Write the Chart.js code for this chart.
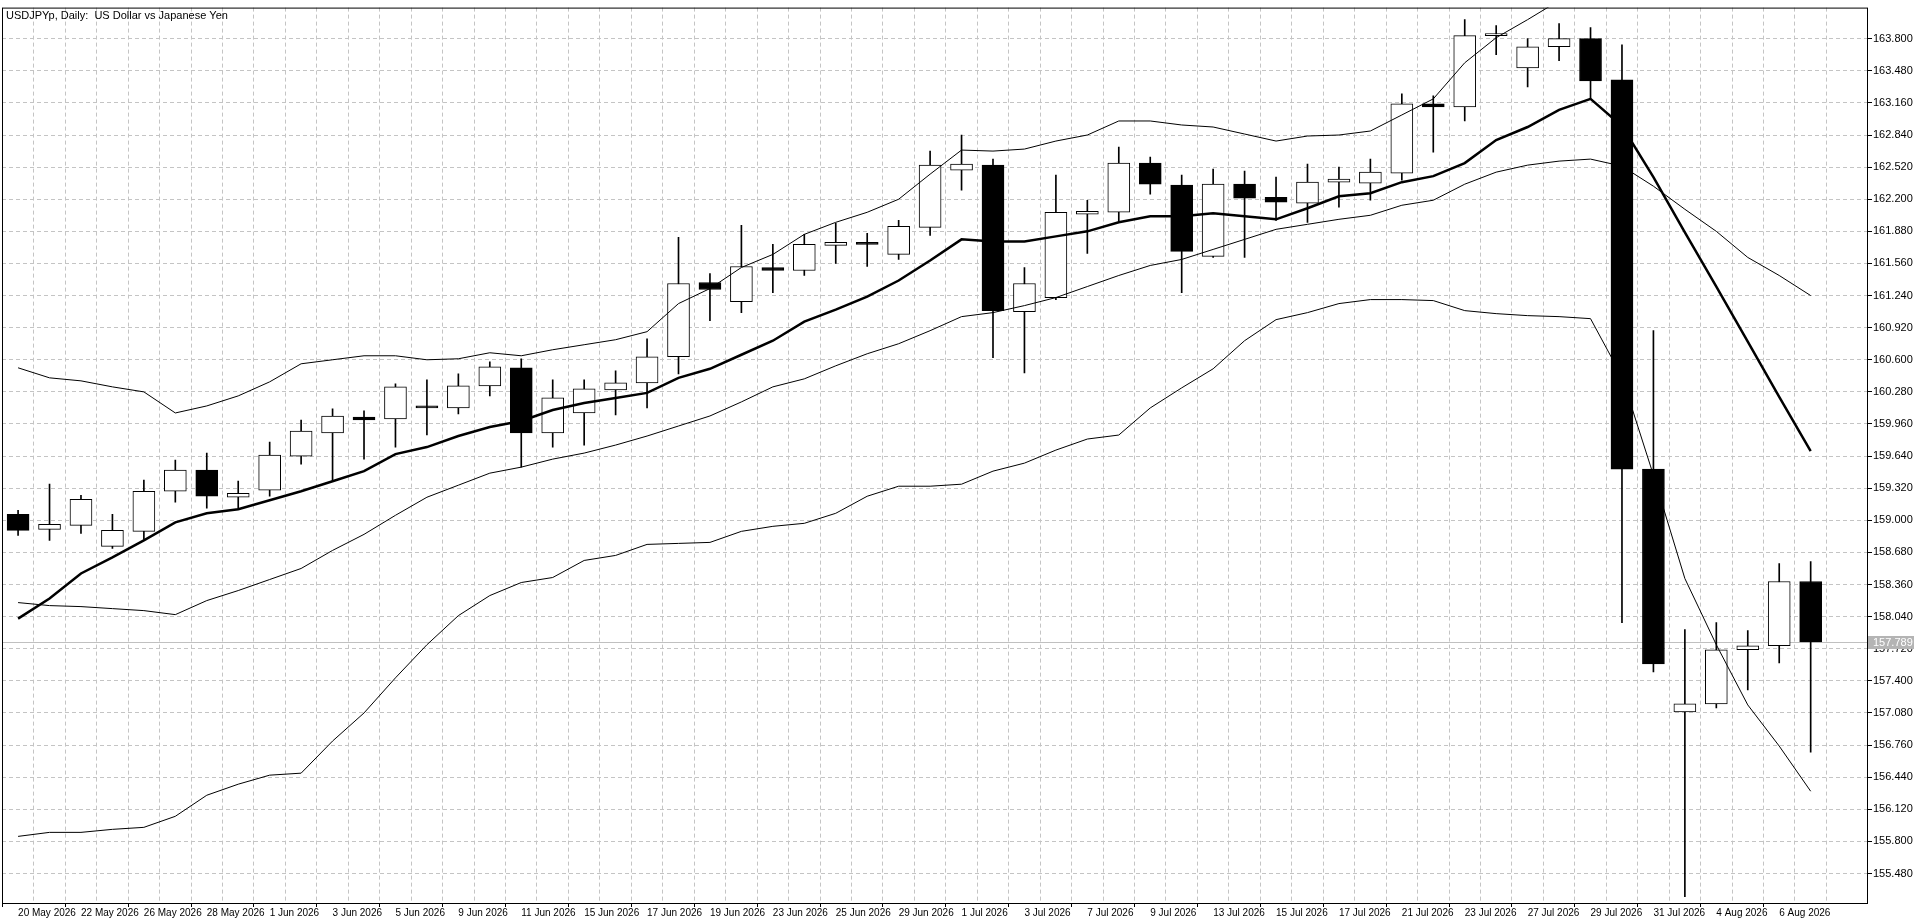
<!DOCTYPE html>
<html>
<head>
<meta charset="utf-8">
<script src="https://cdn.jsdelivr.net/npm/chart.js@4.4.1/dist/chart.umd.min.js"></script>
<style>
  html, body { margin: 0; padding: 0; background: #fff; }
  #wrap { width: 1920px; height: 923px; }
</style>
</head>
<body>
<div id="wrap"><canvas id="canvas" width="1920" height="923"></canvas></div>
<script>
// USDJPYp daily candles, 20 May - 7 Aug 2026
var dates = [
  '20 May 2026','21 May 2026','22 May 2026','25 May 2026','26 May 2026','27 May 2026','28 May 2026','29 May 2026',
  '1 Jun 2026','2 Jun 2026','3 Jun 2026','4 Jun 2026','5 Jun 2026','8 Jun 2026','9 Jun 2026','10 Jun 2026',
  '11 Jun 2026','12 Jun 2026','15 Jun 2026','16 Jun 2026','17 Jun 2026','18 Jun 2026','19 Jun 2026','22 Jun 2026',
  '23 Jun 2026','24 Jun 2026','25 Jun 2026','26 Jun 2026','29 Jun 2026','30 Jun 2026',
  '1 Jul 2026','2 Jul 2026','3 Jul 2026','6 Jul 2026','7 Jul 2026','8 Jul 2026','9 Jul 2026','10 Jul 2026',
  '13 Jul 2026','14 Jul 2026','15 Jul 2026','16 Jul 2026','17 Jul 2026','20 Jul 2026','21 Jul 2026','22 Jul 2026',
  '23 Jul 2026','24 Jul 2026','27 Jul 2026','28 Jul 2026','29 Jul 2026','30 Jul 2026','31 Jul 2026',
  '3 Aug 2026','4 Aug 2026','5 Aug 2026','6 Aug 2026','7 Aug 2026'
];

var open = [159.06,158.91,158.95,158.74,158.89,159.29,159.50,159.23,159.30,159.64,159.87,160.03,160.01,160.14,160.12,160.34,
  160.52,159.87,160.07,160.30,160.37,160.63,161.37,161.18,161.52,161.49,161.74,161.77,161.65,161.92,
  162.49,162.54,161.08,161.22,162.05,162.07,162.56,162.34,161.63,162.35,162.22,162.16,162.37,162.36,162.46,163.15,
  163.12,163.83,163.51,163.72,163.80,163.39,159.51,157.09,157.17,157.71,157.75,158.39];
var high = [159.10,159.36,159.25,159.06,159.40,159.60,159.67,159.39,159.78,160.00,160.11,160.09,160.36,160.40,160.46,160.58,
  160.61,160.40,160.40,160.49,160.81,161.82,161.46,161.94,161.75,161.85,161.96,161.86,161.99,162.68,
  162.84,162.60,161.52,162.44,162.19,162.72,162.62,162.44,162.50,162.48,162.42,162.55,162.52,162.60,163.25,163.23,
  163.99,163.93,163.80,163.95,163.91,163.74,160.89,157.91,157.98,157.90,158.57,158.59];
var low = [158.85,158.80,158.87,158.72,158.81,159.18,159.12,159.11,159.24,159.56,159.39,159.61,159.73,159.85,160.06,160.24,
  159.53,159.73,159.75,160.05,160.12,160.46,160.99,161.07,161.27,161.44,161.56,161.53,161.60,161.84,
  162.29,160.62,160.47,161.20,161.66,161.97,162.25,161.27,161.62,161.62,161.99,161.97,162.12,162.19,162.39,162.67,
  162.98,163.64,163.32,163.58,163.21,157.98,157.49,155.25,157.13,157.31,157.58,156.69];
var close = [158.90,158.96,159.21,158.90,159.29,159.50,159.24,159.27,159.65,159.89,160.04,160.00,160.33,160.12,160.34,160.53,
  159.87,160.22,160.31,160.37,160.63,161.36,161.30,161.53,161.49,161.75,161.77,161.75,161.93,162.54,
  162.55,161.09,161.36,162.07,162.08,162.56,162.35,161.68,162.35,162.21,162.17,162.37,162.40,162.47,163.15,163.12,
  163.83,163.85,163.72,163.80,163.38,159.51,157.57,157.17,157.71,157.75,158.39,157.789];

// indicator lines
var maLine = [158.02,158.22,158.47,158.63,158.80,158.98,159.07,159.11,159.20,159.29,159.39,159.49,159.66,159.73,159.84,159.93,
  159.99,160.10,160.17,160.22,160.27,160.42,160.51,160.65,160.79,160.98,161.10,161.23,161.39,161.59,
  161.80,161.78,161.78,161.83,161.88,161.97,162.03,162.03,162.06,162.03,162.00,162.11,162.23,162.26,162.37,162.43,
  162.56,162.79,162.92,163.09,163.20,162.93,162.42,161.87,161.33,160.78,160.23,159.69];
var upperBand = [160.52,160.42,160.39,160.33,160.28,160.07,160.14,160.24,160.38,160.56,160.60,160.64,160.64,160.60,160.61,160.67,
  160.64,160.70,160.75,160.80,160.88,161.16,161.31,161.52,161.65,161.85,161.97,162.07,162.20,162.45,
  162.69,162.68,162.70,162.78,162.84,162.98,162.98,162.94,162.92,162.85,162.78,162.83,162.84,162.88,163.04,163.20,
  163.56,163.81,163.99,164.18,164.40,164.90,165.40,165.80,166.00,166.10,166.10,166.00];
var innerBand = [158.18,158.15,158.14,158.12,158.10,158.06,158.20,158.30,158.41,158.52,158.70,158.86,159.05,159.23,159.35,159.47,
  159.53,159.61,159.67,159.75,159.84,159.94,160.04,160.18,160.33,160.41,160.54,160.66,160.76,160.89,
  161.03,161.07,161.14,161.22,161.33,161.44,161.54,161.60,161.70,161.80,161.90,161.95,162.00,162.04,162.14,162.19,
  162.35,162.47,162.54,162.58,162.60,162.53,162.33,162.10,161.88,161.62,161.44,161.24];
var lowerBand = [155.85,155.89,155.89,155.92,155.94,156.05,156.26,156.37,156.46,156.48,156.80,157.08,157.43,157.76,158.05,158.25,
  158.38,158.43,158.60,158.65,158.76,158.77,158.78,158.89,158.94,158.97,159.07,159.24,159.34,159.34,
  159.36,159.49,159.57,159.70,159.81,159.85,160.12,160.32,160.51,160.79,161.00,161.07,161.16,161.20,161.20,161.19,
  161.09,161.06,161.04,161.03,161.01,160.43,159.45,158.42,157.76,157.16,156.75,156.30];

var priceTicks = [155.48,155.80,156.12,156.44,156.76,157.08,157.40,157.72,158.04,158.36,158.68,159.00,159.32,159.64,
  159.96,160.28,160.60,160.92,161.24,161.56,161.88,162.20,162.52,162.84,163.16,163.48,163.80];
var lastPrice = 157.789;

var FONT = '"Liberation Sans", Arial, sans-serif';

var bodies = [], wicks = [], bodyColors = [];
for (let i = 0; i < dates.length; i++) {
    let o = open[i], c = close[i];
    if (Math.abs(o - c) < 0.02) c = o + (c < o ? -0.02 : 0.02);
    bodies.push({x: i, y: [o, c]});
    wicks.push({x: i, y: [low[i], high[i]]});
    bodyColors.push(close[i] < open[i] ? '#000' : '#fff');
}
function lineData(arr) {
    return arr.map(function (v, i) { return {x: i, y: v}; });
}

const overlay = {
    id: 'overlay',
    beforeDatasetsDraw(chart) {
        const ctx = chart.ctx, y = chart.scales.y, a = chart.chartArea;
        const py = Math.round(y.getPixelForValue(lastPrice)) + 0.5;
        ctx.save();
        ctx.strokeStyle = '#c0c0c0';
        ctx.lineWidth = 1;
        ctx.beginPath();
        ctx.moveTo(a.left, py);
        ctx.lineTo(a.right, py);
        ctx.stroke();
        ctx.restore();
    },
    afterDraw(chart) {
        const ctx = chart.ctx, y = chart.scales.y, a = chart.chartArea;
        const py = Math.round(y.getPixelForValue(lastPrice));
        ctx.save();
        ctx.fillStyle = '#b4b4b4';
        ctx.fillRect(a.right + 1, py - 6, 46, 13);
        ctx.fillStyle = '#fff';
        ctx.font = '11px ' + FONT;
        ctx.textBaseline = 'middle';
        ctx.fillText(lastPrice.toFixed(3), a.right + 6, py + 1);
        ctx.fillStyle = '#000';
        ctx.textBaseline = 'top';
        ctx.fillText('USDJPYp, Daily:  US Dollar vs Japanese Yen', a.left + 4, a.top + 3);
        ctx.strokeStyle = '#000';
        ctx.lineWidth = 1;
        ctx.strokeRect(a.left + 0.5, a.top + 0.5, a.right - a.left, a.bottom - a.top);
        ctx.restore();
    }
};

const myChart = new Chart(document.getElementById('canvas'), {
    type: 'bar',
    data: {
        datasets: [
            {type: 'line', data: lineData(maLine), borderColor: '#000', borderWidth: 2.5, pointRadius: 0, order: 1},
            {type: 'line', data: lineData(upperBand), borderColor: '#000', borderWidth: 1, pointRadius: 0, order: 1},
            {type: 'line', data: lineData(innerBand), borderColor: '#000', borderWidth: 1, pointRadius: 0, order: 1},
            {type: 'line', data: lineData(lowerBand), borderColor: '#000', borderWidth: 1, pointRadius: 0, order: 1},
            {data: bodies, backgroundColor: bodyColors, borderColor: '#000', borderWidth: 1, borderSkipped: false,
             barThickness: 22, grouped: false, order: 2},
            {data: wicks, backgroundColor: '#000', borderWidth: 0, barThickness: 1, grouped: false, order: 3}
        ]
    },
    options: {
        responsive: false,
        animation: false,
        layout: {padding: {left: 2, top: 2, right: 0, bottom: 0}},
        plugins: {legend: {display: false}, tooltip: {enabled: false}},
        scales: {
            x: {
                type: 'linear',
                min: 0,
                max: 58.28,
                afterBuildTicks: function (scale) {
                    scale.ticks = dates.map(function (d, i) { return {value: i}; });
                },
                afterFit: function (scale) { scale.height = 20; },
                grid: {
                    color: '#c4c4c4',
                    tickColor: function (ctx) { return ctx.index % 2 === 0 ? '#000' : 'rgba(0,0,0,0)'; },
                    tickLength: 4,
                    drawTicks: true
                },
                border: {display: false, dash: [4, 3]},
                ticks: {
                    autoSkip: false,
                    maxRotation: 0,
                    align: 'start',
                    padding: 0,
                    color: '#000',
                    font: {family: FONT, size: 10},
                    callback: function (v, i) { return i % 2 === 0 ? dates[i] : ''; }
                }
            },
            y: {
                position: 'right',
                min: 155.186,
                max: 164.11,
                afterBuildTicks: function (scale) {
                    scale.ticks = priceTicks.map(function (v) { return {value: v}; });
                },
                afterFit: function (scale) { scale.width = 53; },
                grid: {color: '#c4c4c4', tickColor: '#000', tickLength: 5},
                border: {display: false, dash: [4, 3]},
                ticks: {
                    padding: 1,
                    color: '#000',
                    font: {family: FONT, size: 11},
                    callback: function (v) { return v.toFixed(3); }
                }
            }
        }
    },
    plugins: [overlay]
});
</script>
</body>
</html>
